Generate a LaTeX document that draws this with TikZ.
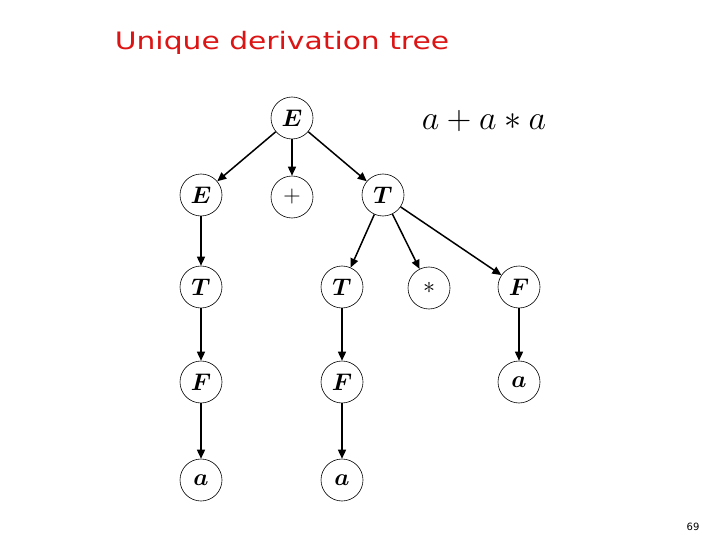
\RequirePackage{fix-cm}
\documentclass[tikz,border=0pt]{standalone}
\usepackage{fontspec}
\usepackage{amsmath,amssymb}
\usepackage{tikz}
\usetikzlibrary{arrows.meta}
\setsansfont{DejaVu Sans}
\newfontfamily\titlefont[FakeStretch=1.24]{DejaVu Sans}
\definecolor{titlered}{RGB}{220,20,20}

\begin{document}
\begin{tikzpicture}[
		x=1pt, y=-1pt,
		sym/.style={circle, draw, line width=0.6pt, minimum size=42pt, inner sep=0pt, font=\fontsize{24}{28}\selectfont},
		arrow/.style={-{Triangle[length=9pt,width=8pt]}, line width=1.5pt}
	]
		\useasboundingbox (0,0) rectangle (720,540);
		% Title
		\node[text=titlered, font=\titlefont\fontsize{24}{28}\selectfont] (title) at (282,43) {Unique derivation tree};
		\node[font=\fontsize{34}{40}\selectfont] (word) at (484,121) {$a+a*a$};
		\node[font=\sffamily\fontsize{10}{12}\selectfont] (page) at (693,527) {69};
		
		% Level 1
		\node[sym] (e0) at (292,118) {$\boldsymbol{E}$};
		% Level 2
		\node[sym] (e1) at (201,195) {$\boldsymbol{E}$};
		\node[sym] (plus) at (292,197) {$+$};
		\node[sym] (t1) at (383,195) {$\boldsymbol{T}$};
		% Level 3
		\node[sym] (t2) at (201,287) {$\boldsymbol{T}$};
		\node[sym] (t3) at (342,287) {$\boldsymbol{T}$};
		\node[sym] (star) at (429,288) {$*$};
		\node[sym] (f1) at (519,287) {$\boldsymbol{F}$};
		% Level 4
		\node[sym] (f2) at (201,382) {$\boldsymbol{F}$};
		\node[sym] (f3) at (342,382) {$\boldsymbol{F}$};
		\node[sym] (a1) at (519,382) {$\boldsymbol{a}$};
		% Level 5
		\node[sym] (a2) at (201,480) {$\boldsymbol{a}$};
		\node[sym] (a3) at (342,480) {$\boldsymbol{a}$};
		
		% Arrows
		\draw[arrow] (e0) -- (e1);
		\draw[arrow] (e0) -- (plus);
		\draw[arrow] (e0) -- (t1);
		\draw[arrow] (e1) -- (t2);
		\draw[arrow] (t1) -- (t3);
		\draw[arrow] (t1) -- (star);
		\draw[arrow] (t1) -- (f1);
		\draw[arrow] (t2) -- (f2);
		\draw[arrow] (t3) -- (f3);
		\draw[arrow] (f1) -- (a1);
		\draw[arrow] (f2) -- (a2);
		\draw[arrow] (f3) -- (a3);
	\end{tikzpicture}
\end{document}
